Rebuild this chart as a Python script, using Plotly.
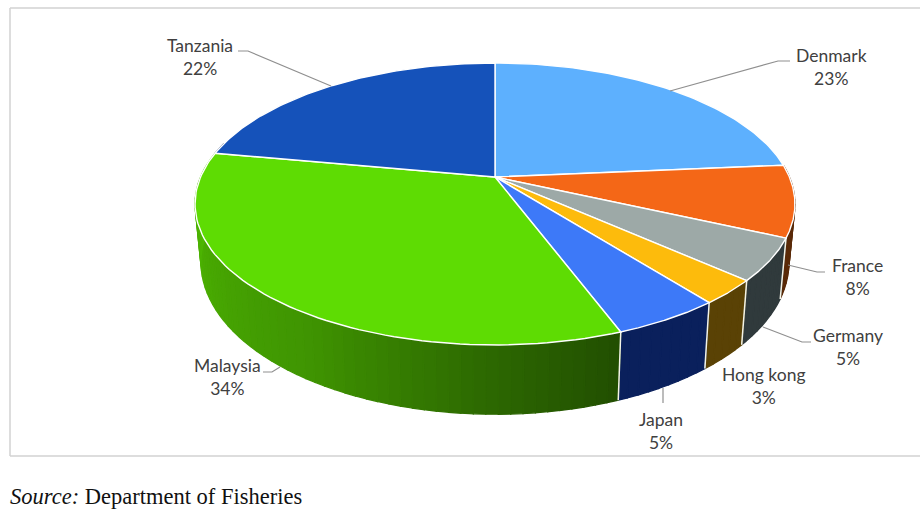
"""3D looking pie chart of export shares, drawn with filled scatter polygons"""

import numpy as np
import plotly.graph_objects as go

countries = ["Denmark", "France", "Germany", "Hong kong", "Japan", "Malaysia", "Tanzania"]
# shares as the slices are drawn, the printed labels are rounded differently in the source
shares = [23.6, 8.2, 4.8, 2.8, 4.9, 33.6, 22.1]
pct_labels = ["23%", "8%", "5%", "3%", "5%", "34%", "22%"]

top_colors = ["#5DB0FE", "#F46717", "#9DA9A7", "#FDBB0C", "#3D79F8", "#5EDC03", "#1552BA"]
wall_colors = ["#1F3F5C", "#5A2A08", "#303A3C", "#5A4205", "#0A205C", None, "#0A2A60"]

# label centre in page pixels
label_pos = [(831, 67), (857, 277), (848, 347), (764, 386), (661, 431), (227, 377), (200, 57)]
leaders = [
    [(670, 91), (778, 61), (790, 61)],
    [(788, 265), (817, 272), (825, 272)],
    [(763, 327), (802, 342), (811, 342)],
    None,
    [(663, 388), (663, 403)],
    [(280, 367), (272, 372), (263, 372)],
    [(331, 86), (248, 51), (238, 51)],
]

# perspective of the pie disc
cx, cy = 495, 177
b, a, k = 294.4, 135.8, 0.1915
depth, shrink = 56, 0.98

# how dark the green wall gets, by angle clockwise from the top
shade_angle = [160, 180, 213, 270]
shade_value = [0.36, 0.47, 0.68, 0.84]


def rim(angle, bottom=False):
    t = np.radians(angle)
    u, v = np.sin(t), np.cos(t)
    d = 1 + k * v
    x = b * u / d
    y = -a * v / d
    if bottom:
        return cx + shrink * x, cy + y + depth / d
    return cx + x, cy + y


def darken(color, f):
    r, g, bl = [int(color[i:i + 2], 16) for i in (1, 3, 5)]
    return "rgb(%d,%d,%d)" % (r * f, g * f, bl * f)


fig = go.Figure()
edges = np.cumsum([0] + shares) * 3.6

# walls first, the top face covers whatever is behind it
for i in range(len(shares)):
    start, end = max(edges[i], 85), min(edges[i + 1], 285)
    if end <= start:
        continue
    steps = np.arange(start, end, 2.0).tolist() + [end]
    for a0, a1 in zip(steps[:-1], steps[1:]):
        x0, y0 = rim(a0)
        x1, y1 = rim(a1)
        x2, y2 = rim(a1, True)
        x3, y3 = rim(a0, True)
        col = wall_colors[i]
        if col is None:
            col = darken(top_colors[i], np.interp((a0 + a1) / 2, shade_angle, shade_value))
        fig.add_trace(go.Scatter(x=[x0, x1, x2, x3, x0], y=[y0, y1, y2, y3, y0], mode="lines",
                                 fill="toself", fillcolor=col, line=dict(color=col, width=1.3),
                                 hoverinfo="skip"))

# white seams between the walls
for e in edges[2:6]:
    x0, y0 = rim(e)
    x1, y1 = rim(e, True)
    fig.add_trace(go.Scatter(x=[x0, x1], y=[y0, y1], mode="lines",
                             line=dict(color="#F4F4E8", width=1.5), hoverinfo="skip"))

# top face
for i in range(len(shares)):
    angles = np.linspace(edges[i], edges[i + 1], 80)
    xs, ys = rim(angles)
    fig.add_trace(go.Scatter(x=[cx] + xs.tolist() + [cx], y=[cy] + ys.tolist() + [cy], mode="lines",
                             fill="toself", fillcolor=top_colors[i],
                             line=dict(color="white", width=1.4), name=countries[i],
                             hoverinfo="name"))

# leader lines
for pts in leaders:
    if pts:
        fig.add_trace(go.Scatter(x=[p[0] for p in pts], y=[p[1] for p in pts], mode="lines",
                                 line=dict(color="#8F8F8F", width=1.2), hoverinfo="skip"))

for name, pct, pos in zip(countries, pct_labels, label_pos):
    fig.add_annotation(x=pos[0], y=pos[1], text=name + "<br>" + pct, showarrow=False,
                       font=dict(family="Lato", size=17.5, color="#404040"))

fig.add_annotation(x=8, y=496, xanchor="left", text="<i>Source:</i> Department of Fisheries",
                   showarrow=False, font=dict(family="Liberation Serif", size=22.5, color="#111111"))

# chart frame, open on the right edge of the page
frame = dict(color="#D2D2D2", width=1.5)
fig.add_shape(type="line", x0=10, x1=920, y0=8, y1=8, line=frame)
fig.add_shape(type="line", x0=10, x1=10, y0=8, y1=456, line=frame)
fig.add_shape(type="line", x0=10, x1=920, y0=456, y1=456, line=frame)

fig.update_layout(width=920, height=521, margin=dict(l=0, r=0, t=0, b=0), showlegend=False,
                  plot_bgcolor="white", paper_bgcolor="white",
                  xaxis=dict(range=[0, 920], visible=False),
                  yaxis=dict(range=[521, 0], visible=False))

# the page has a default 8px body margin
fig.write_html("out.html", config={"displayModeBar": False},
               post_script="document.body.style.margin='0';document.body.style.overflow='hidden';")
